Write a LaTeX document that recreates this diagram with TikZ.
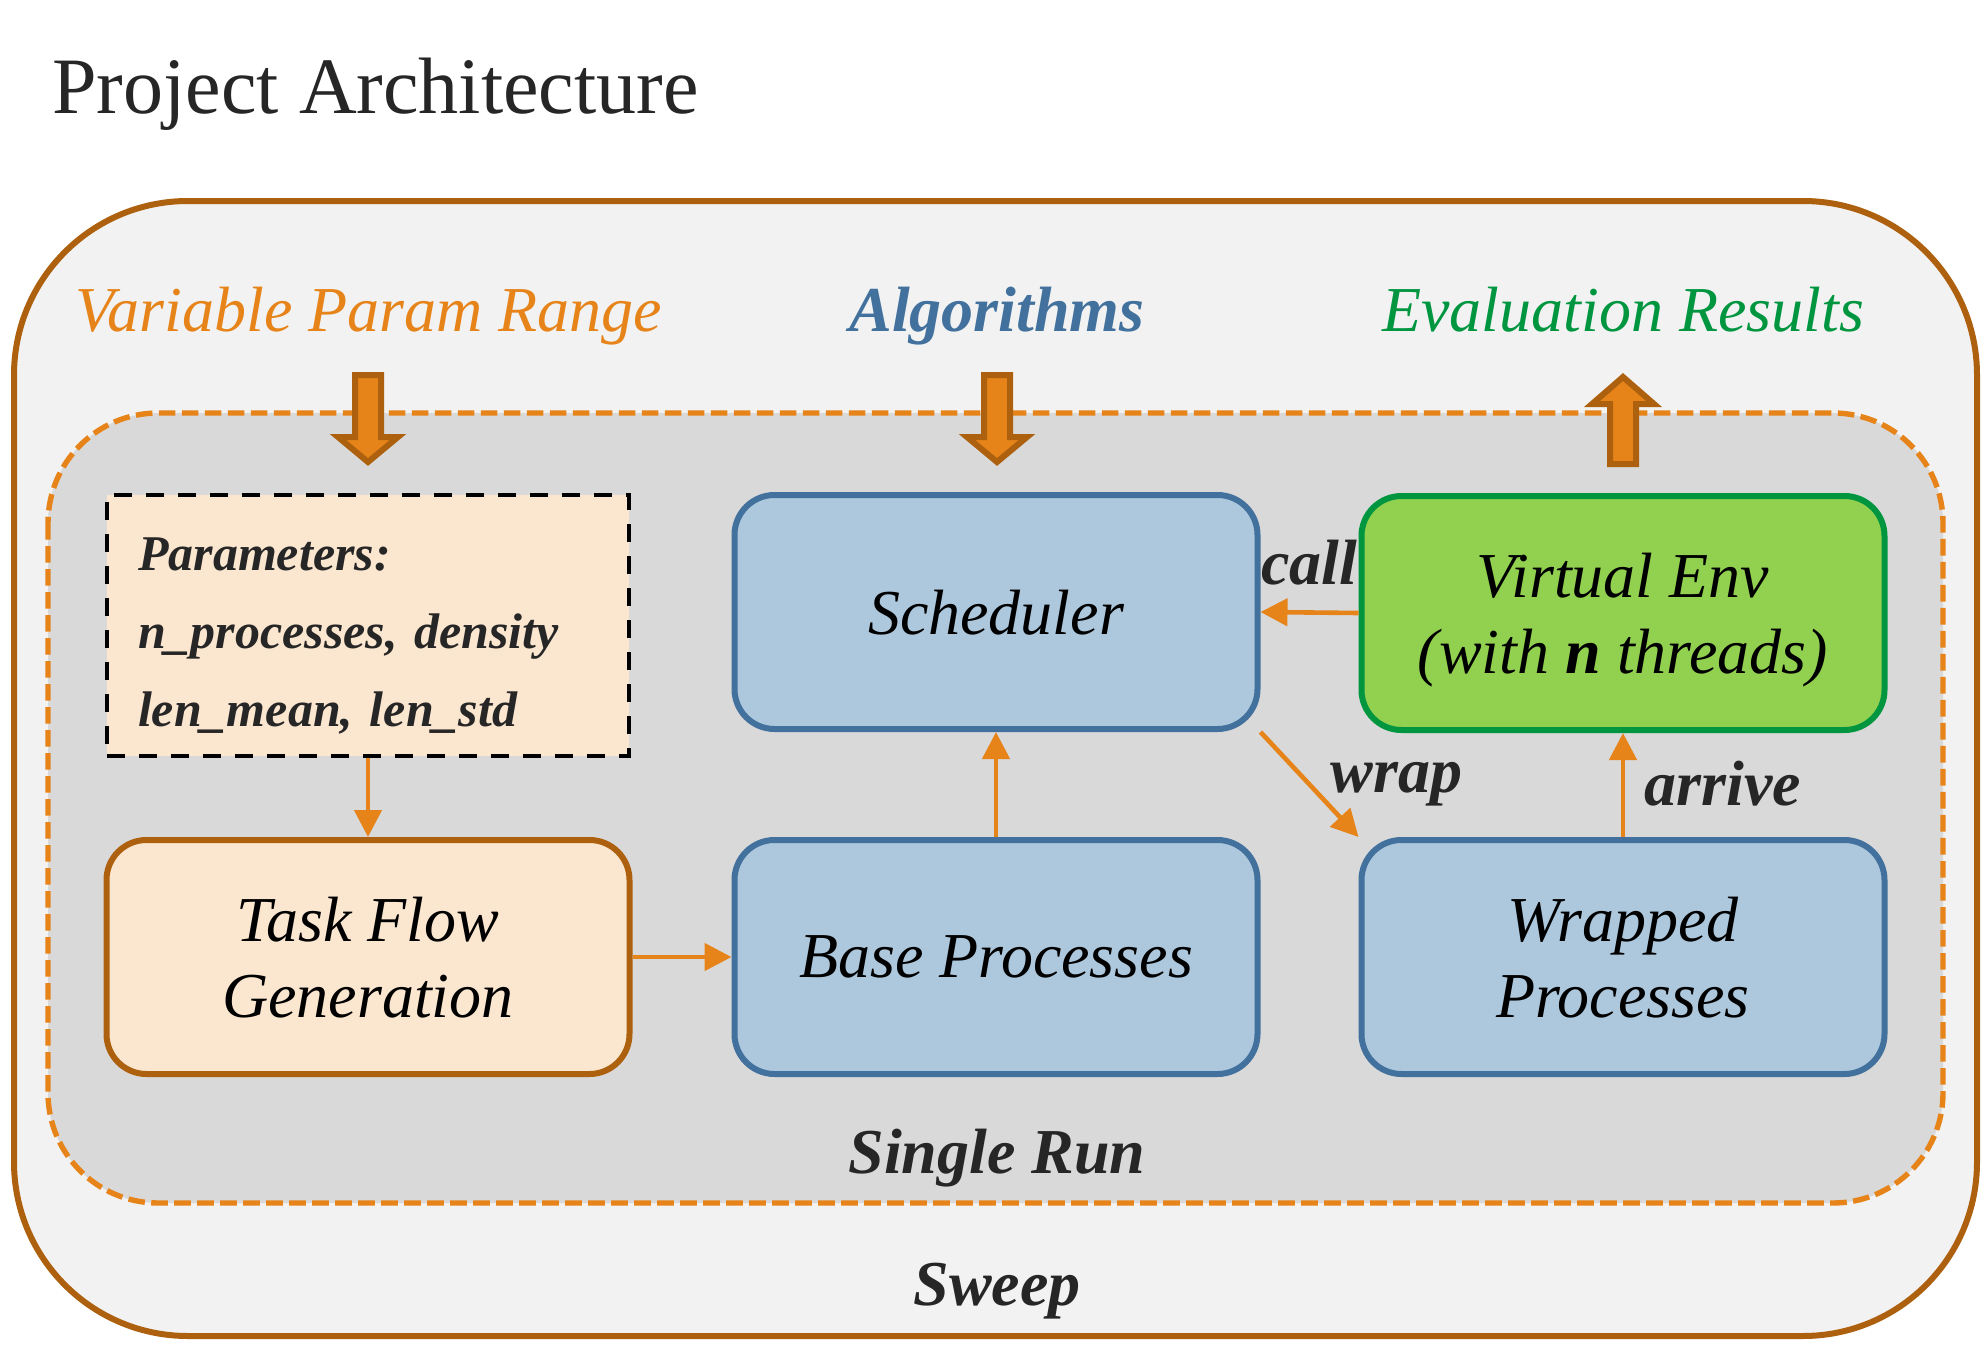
\documentclass[tikz,border=0pt]{standalone}
\usepackage{fontspec}
\setmainfont{Liberation Serif}
\usetikzlibrary{arrows.meta}
\definecolor{sweepbr}{HTML}{AD610E}
\definecolor{sweepfill}{HTML}{F2F2F2}
\definecolor{runfill}{HTML}{D9D9D9}
\definecolor{orng}{HTML}{E6841A}
\definecolor{bluefill}{HTML}{ADC7DC}
\definecolor{blueline}{HTML}{41719C}
\definecolor{greenfill}{HTML}{92D050}
\definecolor{greenline}{HTML}{00953F}
\definecolor{peach}{HTML}{FBE6CF}
\definecolor{ink}{HTML}{262626}
\begin{document}
\begin{tikzpicture}[x=0.5pt,y=-0.5pt,
  box/.style={rounded corners=20pt, line width=3pt, minimum width=261.5pt,
    minimum height=117pt, align=center, text depth=0pt, inner sep=0pt,
    font=\fontsize{32}{38}\selectfont\itshape, text=black},
  bluebox/.style={box, fill=bluefill, draw=blueline},
  greenbox/.style={box, fill=greenfill, draw=greenline},
  peachbox/.style={box, fill=peach, draw=sweepbr},
  parambox/.style={draw=black, fill=peach, line width=2.2pt, dash pattern=on 9pt off 7pt,
    minimum width=261pt, minimum height=130.5pt, text width=230pt, inner xsep=15.5pt,
    align=left, text height=26.5pt, text depth=82pt,
    font=\fontsize{25}{39}\selectfont\bfseries\itshape, text=ink},
  conn/.style={draw=orng, line width=2.3pt, -{Triangle[width=13.5pt,length=13.5pt]}},
  lbl/.style={font=\fontsize{32}{38}\selectfont\bfseries\itshape, text=ink},
  toplbl/.style={font=\fontsize{32}{38}\selectfont\itshape, anchor=base},
  blockarrow/.style={fill=orng, draw=sweepbr, line width=3pt, line join=miter},
  downarrow/.pic={\draw[blockarrow] (-13,375) -- (13,375) -- (13,437) -- (30,437) -- (0,462)
      -- (-30,437) -- (-13,437) -- cycle;},
  uparrow/.pic={\draw[blockarrow] (0,377) -- (31,404) -- (13,404) -- (13,464) -- (-13,464)
      -- (-13,404) -- (-31,404) -- cycle;}
]
\useasboundingbox (0,0) rectangle (1982,1359);
% containers
\draw[sweepbr, fill=sweepfill, line width=3pt, rounded corners=87pt] (14,201) rectangle (1977,1336);
\draw[orng, fill=runfill, line width=2.7pt, dash pattern=on 8.3pt off 3.2pt, rounded corners=55pt]
  (48,413) rectangle (1943,1203);
% title
\node[anchor=base west, font=\fontsize{40}{48}\selectfont, text=ink, inner sep=0pt] (title)
  at (52,114) {Project Architecture};
% top labels
\node[toplbl, text=orng] (vpr) at (369,331) {Variable Param Range};
\node[toplbl, text=blueline, font=\fontsize{32}{38}\selectfont\bfseries\itshape] (alg) at (997,331) {Algorithms};
\node[toplbl, text=greenline] (eval) at (1623,331) {Evaluation Results};
% block arrows
\pic at (368,0) {downarrow};
\pic at (997,0) {downarrow};
\pic at (1623,0) {uparrow};
% boxes
\node[parambox] (params) at (368,625.5) {Parameters:\\n\_processes, density\\len\_mean, len\_std};
\node[bluebox] (sched) at (996,612) {Scheduler};
\node[greenbox] (venv) at (1623,613) {Virtual Env\\(with \textbf{n} threads)};
\node[peachbox] (task) at (368,957) {Task Flow\\Generation};
\node[bluebox] (base) at (996,957) {Base Processes};
\node[bluebox] (wrapped) at (1623,957) {Wrapped\\Processes};
% connectors
\draw[conn] (params.south) -- (task.north);
\draw[conn] (task.east) -- (base.west);
\draw[conn] (base.north) -- (sched.south);
\draw[conn] (venv.west) -- (sched.east)
  node[lbl, midway, anchor=base, yshift=14pt] (call) {call};
\draw[conn] (sched.south east) -- (wrapped.north west)
  node[lbl, midway, anchor=base west, xshift=6pt, yshift=-4pt] (wrap) {wrap};
\draw[conn] (wrapped.north) -- (venv.south)
  node[lbl, midway, anchor=base west, xshift=6.5pt, yshift=-10pt] (arrive) {arrive};
% container labels
\node[lbl, anchor=base] (single) at (997,1173) {Single Run};
\node[lbl, anchor=base] (sweep) at (997,1305) {Sweep};
\end{tikzpicture}
\end{document}
